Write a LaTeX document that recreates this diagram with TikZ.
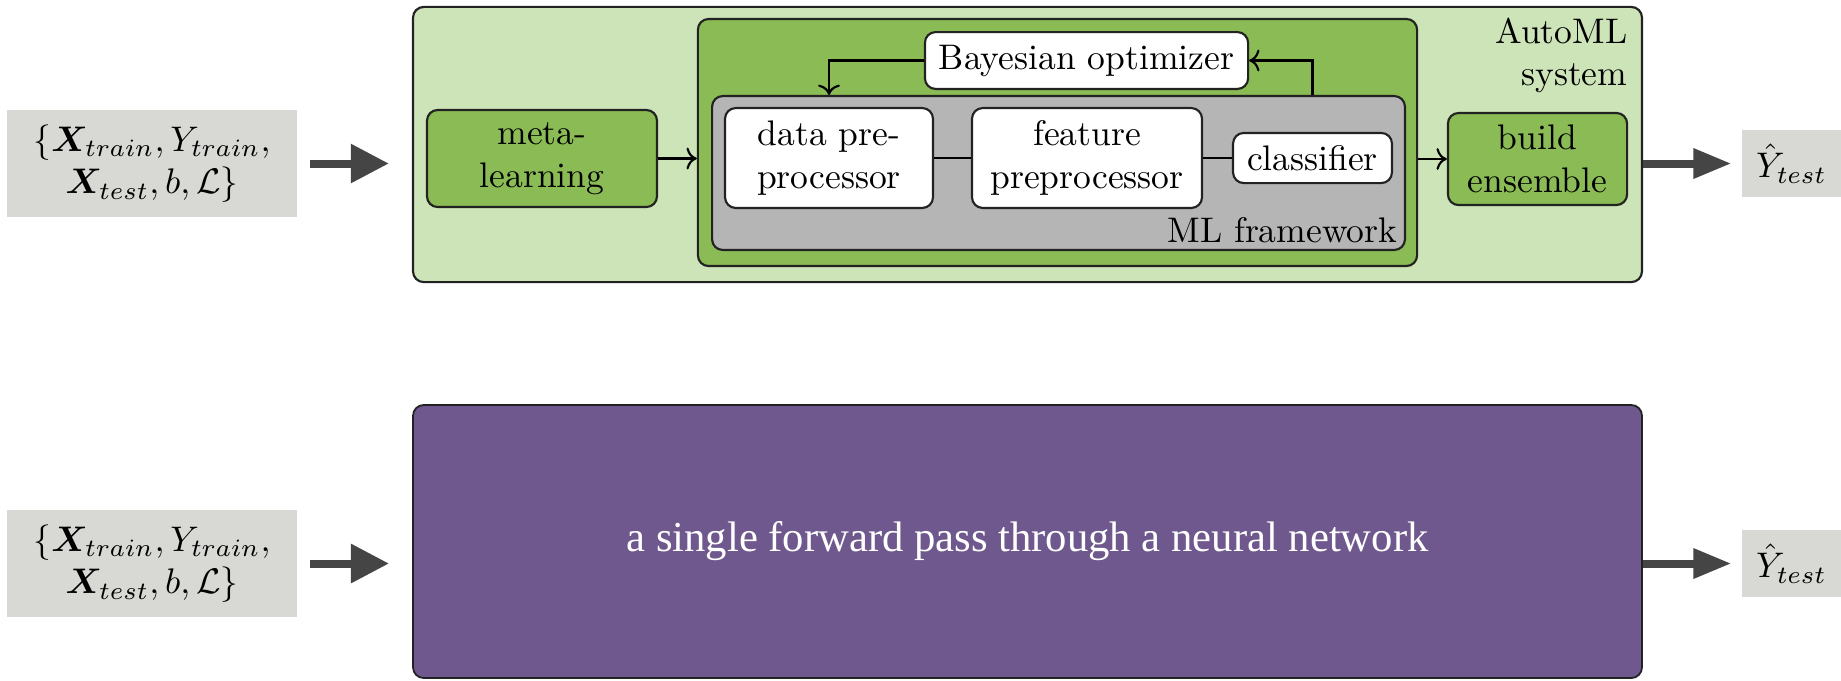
\documentclass[tikz,border=0pt]{standalone}
\usepackage{amsmath}
\usepackage{bm}
\font\nnfnt="Liberation Serif" at 12pt
\usetikzlibrary{arrows.meta}
\definecolor{lightgreen}{HTML}{CDE4B9}
\definecolor{darkgreen}{HTML}{8ABB54}
\definecolor{mlgrey}{HTML}{B5B5B5}
\definecolor{nnpurple}{HTML}{6F588D}
\definecolor{iobox}{HTML}{D8D9D4}
\definecolor{bigarrowc}{HTML}{454545}
\definecolor{edge}{HTML}{222222}
\tikzset{
  box/.style={draw=edge, line width=0.6pt, rounded corners=3pt, align=center, inner sep=1pt},
  greenbox/.style={box, fill=darkgreen},
  whitebox/.style={box, fill=white},
  iostyle/.style={fill=iobox, draw=none, align=center, inner sep=0pt},
  conn/.style={draw=black, line width=0.6pt},
  bigin/.style={draw=bigarrowc, line width=2.25pt, -{Triangle[length=10.7pt,width=10.5pt]}},
  bigout/.style={draw=bigarrowc, line width=2.25pt, -{Triangle[length=10.7pt,width=8pt]}},
}
\begin{document}
\begin{tikzpicture}[x=0.2813pt,y=-0.2813pt]
\useasboundingbox (0,0) rectangle (1841,680);
% ---------- top row ----------
\node[iostyle, minimum width=81.6pt, minimum height=30.1pt] (in1) at (152,163.5)
  {$\{\bm{X}_{train},Y_{train},$\\$\bm{X}_{test},b,\mathcal{L}\}$};
\node[box, fill=lightgreen, minimum width=345.7pt, minimum height=77.4pt] (automl) at (1027.5,144.5) {};
\node[greenbox, minimum width=64.7pt, minimum height=27.3pt] (meta) at (542,158.5) {meta-\\learning};
\node[greenbox, minimum width=202.3pt, minimum height=69.5pt] (mlouter) at (1057.5,142.5) {};
\node[box, fill=mlgrey, minimum width=194.9pt, minimum height=43.3pt] (mlgray) at (1058.5,173) {};
\node[whitebox, minimum width=58.5pt, minimum height=28.1pt] (dpp) at (829,158) {data pre-\\processor};
\node[whitebox, minimum width=64.7pt, minimum height=28.1pt] (fpp) at (1087,158) {feature\\preprocessor};
\node[whitebox, minimum width=44.7pt, minimum height=14.1pt] (clf) at (1312.5,158) {classifier};
\node[whitebox, minimum width=90.9pt, minimum height=16pt] (bo) at (1086.5,60.5) {Bayesian optimizer};
\node[greenbox, minimum width=50.4pt, minimum height=25.9pt] (be) at (1537.5,159) {build\\ensemble};
\node[iostyle, minimum width=27.8pt, minimum height=18.8pt] (out1) at (1791.5,163.5) {$\hat{Y}_{test}$};
\node[align=right, anchor=north east, inner sep=0pt] (automltxt) at (1628,17) {AutoML\\system};
\node[anchor=base east, inner sep=0pt] (mltxt) at (1398,242) {ML framework};
% connectors
\draw[conn] (dpp) -- (fpp);
\draw[conn] (fpp) -- (clf);
\draw[conn,->] (meta.east) -- (meta.east -| mlouter.west);
\draw[conn,->] (mlouter.east |- be.west) -- (be.west);
\draw[conn,->] (bo.west) -| (dpp.north |- mlgray.north);
\draw[conn,->] (clf.north |- mlgray.north) |- (bo.east);
\draw[bigin, shorten <=3.4pt, shorten >=6.5pt] (in1.east) -- (in1.east -| automl.west);
\draw[bigout, shorten >=2.8pt] (automl.east |- out1.west) -- (out1.west);
% ---------- bottom row ----------
\node[iostyle, minimum width=81.6pt, minimum height=30.1pt] (in2) at (152,563.5)
  {$\{\bm{X}_{train},Y_{train},$\\$\bm{X}_{test},b,\mathcal{L}\}$};
\node[draw=edge, line width=0.5pt, fill=nnpurple, rounded corners=3pt, minimum width=345.7pt, minimum height=76.8pt,
  text=white, font=\nnfnt] (nn) at (1027.5,541.5)
  {a single forward pass through a neural network};
\node[iostyle, minimum width=27.8pt, minimum height=18.8pt] (out2) at (1791.5,563.5) {$\hat{Y}_{test}$};
\draw[bigin, shorten <=3.4pt, shorten >=6.5pt] (in2.east) -- (in2.east -| nn.west);
\draw[bigout, shorten >=2.8pt] (nn.east |- out2.west) -- (out2.west);
\end{tikzpicture}
\end{document}
